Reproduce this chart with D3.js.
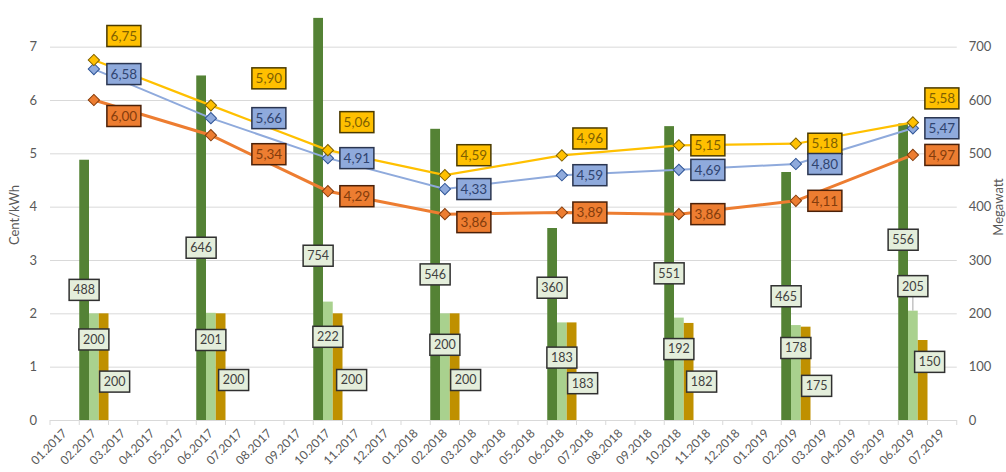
<!DOCTYPE html>
<html>
<head>
<meta charset="utf-8">
<script src="https://cdn.jsdelivr.net/npm/d3@7"></script>
<style>
  body { margin: 0; background: #fff; overflow: hidden; }
  text { font-family: Lato, "Open Sans", sans-serif; }
</style>
</head>
<body>
<div id="chart"></div>
<script>
// x axis categories (tick labels)
const months = [
    "01.2017", "02.2017", "03.2017", "04.2017", "05.2017", "06.2017", "07.2017", "08.2017",
    "09.2017", "10.2017", "11.2017", "12.2017", "01.2018", "02.2018", "03.2018", "04.2018",
    "05.2018", "06.2018", "07.2018", "08.2018", "09.2018", "10.2018", "11.2018", "12.2018",
    "01.2019", "02.2019", "03.2019", "04.2019", "05.2019", "06.2019", "07.2019"
]
// months that carry values
const dataMonths = ["02.2017", "06.2017", "10.2017", "02.2018", "06.2018", "10.2018", "02.2019", "06.2019"]

// Cent/kWh (left axis)
const priceYellow = [6.75, 5.90, 5.06, 4.59, 4.96, 5.15, 5.18, 5.58]
const priceBlue   = [6.58, 5.66, 4.91, 4.33, 4.59, 4.69, 4.80, 5.47]
const priceOrange = [6.00, 5.34, 4.29, 3.86, 3.89, 3.86, 4.11, 4.97]

// Megawatt (right axis)
const mwDark  = [488, 646, 754, 546, 360, 551, 465, 556]
const mwLight = [200, 201, 222, 200, 183, 192, 178, 205]
const mwGold  = [200, 200, 200, 200, 183, 182, 175, 150]

const leftTicks = [0, 1, 2, 3, 4, 5, 6, 7]
const rightTicks = [0, 100, 200, 300, 400, 500, 600, 700]

// hand placed data labels (as in the original sheet)
const lineLabelDx = [30, 58, 29, 29, 28, 29, 29, 29]
const yellowLabelDy = [-24, -27, -28, -20, -17, 0, 0, -24]
const blueLabelDy = [5, 0, 0, 0, 0, 0, 0, 0]
const orangeLabelDy = [16, 19, 5, 8, 0, 0, 0, 0]
const darkLabelAt = [244, 323, 308, 273, 248, 275, 232, 338]
const lightLabelAt = [151, 150, 156, 141, 117, 133, 135, 251]
const goldLabelAt = [72, 75, 75, 75, 69, 72, 64, 109]
const goldLabelDx = [11, 13, 14, 11, 11, 13, 11, 7]

const CONFIG = {
    width: 1006,
    height: 472,
    left: 50,
    right: 956.75,
    base: 420,
    top: 46.67
}

const svg = d3.select('#chart')
    .append('svg')
    .attr('width', CONFIG.width)
    .attr('height', CONFIG.height)

const x = d3.scaleBand()
    .domain(months)
    .range([CONFIG.left, CONFIG.right])
    .padding(0)

const xSub = d3.scaleBand()
    .domain(['dark', 'light', 'gold'])
    .range([0, x.bandwidth()])
    .padding(0)

const yL = d3.scaleLinear().domain([0, 7]).range([CONFIG.base, CONFIG.top])
const yR = d3.scaleLinear().domain([0, 700]).range([CONFIG.base, CONFIG.top])

// gridlines
const grid = svg.append('g')
    .attr('transform', `translate(${CONFIG.left}, 0)`)
    .call(d3.axisLeft(yL).tickValues(leftTicks).tickSize(-(CONFIG.right - CONFIG.left)).tickFormat(''))
grid.select('.domain').remove()
grid.selectAll('line').attr('stroke', '#d9d9d9').attr('stroke-width', 1)

// left axis labels
const yAxisL = svg.append('g')
    .attr('transform', `translate(${CONFIG.left}, 0)`)
    .call(d3.axisLeft(yL).tickValues(leftTicks).tickFormat(d3.format('d')).tickSize(0).tickPadding(13))
yAxisL.select('.domain').remove()
yAxisL.selectAll('text').attr('fill', '#595959').attr('font-size', 13).style('font-family', 'Lato, sans-serif')

// right axis labels
const yAxisR = svg.append('g')
    .attr('transform', `translate(${CONFIG.right}, 0)`)
    .call(d3.axisRight(yR).tickValues(rightTicks).tickSize(0).tickPadding(12))
yAxisR.select('.domain').remove()
yAxisR.selectAll('text').attr('fill', '#595959').attr('font-size', 13).style('font-family', 'Lato, sans-serif')

// x axis tick marks at band boundaries
const boundaries = months.map((m) => x(m)).concat([x.range()[1]])
svg.append('g')
    .selectAll('line')
    .data(boundaries)
    .enter()
    .append('line')
    .attr('x1', (d) => d)
    .attr('x2', (d) => d)
    .attr('y1', CONFIG.base)
    .attr('y2', CONFIG.base + 5)
    .attr('stroke', '#d9d9d9')

// x axis labels
const xAxis = svg.append('g')
    .attr('transform', `translate(0, ${CONFIG.base})`)
    .call(d3.axisBottom(x).tickSize(0))
xAxis.select('.domain').remove()
xAxis.selectAll('text')
    .attr('x', 0)
    .attr('y', 0)
    .attr('dy', '0.35em')
    .attr('transform', 'translate(0, 11) rotate(-45)')
    .style('text-anchor', 'end')
    .attr('fill', '#595959')
    .attr('font-size', 12)
    .style('font-family', 'Lato, sans-serif')

// axis titles
svg.append('text')
    .attr('transform', `translate(19, 215) rotate(-90)`)
    .attr('text-anchor', 'middle')
    .attr('fill', '#595959')
    .attr('font-size', 13)
    .text('Cent/kWh')

svg.append('text')
    .attr('transform', `translate(1003, 207) rotate(-90)`)
    .attr('text-anchor', 'middle')
    .attr('fill', '#595959')
    .attr('font-size', 13)
    .text('Megawatt')

// bars
const barSeries = [
    { key: 'dark', values: mwDark, color: '#548235' },
    { key: 'light', values: mwLight, color: '#a9d18e' },
    { key: 'gold', values: mwGold, color: '#bf9000' }
]

const barLayer = svg.append('g')
barSeries.forEach((s) => {
    barLayer.append('g')
        .attr('fill', s.color)
        .selectAll('rect')
        .data(s.values)
        .enter()
        .append('rect')
        .attr('x', (d, i) => x(dataMonths[i]) + xSub(s.key))
        .attr('width', xSub.bandwidth())
        .attr('y', (d) => yR(d))
        .attr('height', (d) => yR(0) - yR(d))
})

// lines
const lineSeries = [
    { values: priceYellow, color: '#ffc000', edge: '#7f6000', width: 2.25, text: '#7f6000', box: '#4a3a00', dy: yellowLabelDy },
    { values: priceBlue, color: '#8faadc', edge: '#2f5597', width: 2, text: '#2f4470', box: '#2a3550', dy: blueLabelDy },
    { values: priceOrange, color: '#ed7d31', edge: '#843c0c', width: 3, text: '#843c0c', box: '#4a2008', dy: orangeLabelDy }
]

const cx = (i) => x(dataMonths[i]) + x.bandwidth() / 2

const line = d3.line()
    .x((d, i) => cx(i))
    .y((d) => yL(d))

const lineLayer = svg.append('g')
lineSeries.slice().reverse().forEach((s) => {
    lineLayer.append('path')
        .datum(s.values)
        .attr('fill', 'none')
        .attr('stroke', s.color)
        .attr('stroke-width', s.width)
        .attr('d', line)
})

const diamond = d3.symbol().type(d3.symbolSquare).size(64)
lineSeries.slice().reverse().forEach((s) => {
    lineLayer.append('g')
        .selectAll('path')
        .data(s.values)
        .enter()
        .append('path')
        .attr('d', diamond)
        .attr('transform', (d, i) => `translate(${cx(i)}, ${yL(d)}) rotate(45)`)
        .attr('fill', s.color)
        .attr('stroke', s.edge)
        .attr('stroke-width', 1)
})

// bar labels
const fmtComma = (v) => v.toFixed(2).replace('.', ',')
const barLabels = [
    { values: mwDark, at: darkLabelAt, dx: mwDark.map(() => 0), key: 'dark' },
    { values: mwLight, at: lightLabelAt, dx: mwLight.map(() => 0), key: 'light' },
    { values: mwGold, at: goldLabelAt, dx: goldLabelDx, key: 'gold' }
]
const labelLayer = svg.append('g')
barLabels.forEach((s) => {
    s.values.forEach((v, i) => {
        const bx = x(dataMonths[i]) + xSub(s.key) + xSub.bandwidth() / 2 + s.dx[i]
        const by = yR(s.at[i])
        const w = 30, h = 21
        if (by + h / 2 < yR(v) - 2) {
            labelLayer.append('line')
                .attr('x1', bx).attr('x2', bx)
                .attr('y1', by + h / 2).attr('y2', yR(v))
                .attr('stroke', '#a6a6a6')
                .attr('stroke-width', 1)
        }
        labelLayer.append('rect')
            .attr('x', bx - w / 2)
            .attr('y', by - h / 2)
            .attr('width', w)
            .attr('height', h)
            .attr('fill', '#e4eedb')
            .attr('stroke', '#303030')
            .attr('stroke-width', 1.5)
        labelLayer.append('text')
            .attr('x', bx)
            .attr('y', by)
            .attr('dy', '0.35em')
            .attr('text-anchor', 'middle')
            .attr('fill', '#404040')
            .attr('font-size', 12.5)
            .text(v)
    })
})

// line labels
lineSeries.forEach((s) => {
    s.values.forEach((v, i) => {
        const bx = cx(i) + lineLabelDx[i]
        const by = yL(v) + s.dy[i]
        const w = 34, h = 21
        labelLayer.append('rect')
            .attr('x', bx - w / 2)
            .attr('y', by - h / 2)
            .attr('width', w)
            .attr('height', h)
            .attr('fill', s.color)
            .attr('stroke', s.box)
            .attr('stroke-width', 1.5)
        labelLayer.append('text')
            .attr('x', bx)
            .attr('y', by)
            .attr('dy', '0.35em')
            .attr('text-anchor', 'middle')
            .attr('fill', s.text)
            .attr('font-size', 13.5)
            .text(fmtComma(v))
    })
})
</script>
</body>
</html>
